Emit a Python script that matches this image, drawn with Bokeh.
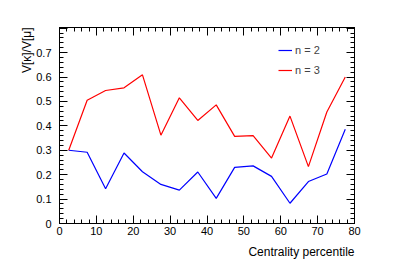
from bokeh.plotting import figure
from bokeh.models import (Range1d, LinearAxis, SingleIntervalTicker, Legend, LegendItem,
                          ColumnDataSource, Title, CustomJSTickFormatter)
from bokeh.embed import file_html
from bokeh.resources import INLINE

centrality = [2.5, 7.5, 12.5, 17.5, 22.5, 27.5, 32.5, 37.5, 42.5, 47.5, 52.5, 57.5, 62.5, 67.5, 72.5, 77.5]
ratio_n2 = [0.300, 0.292, 0.142, 0.289, 0.212, 0.160, 0.137, 0.211, 0.103, 0.230, 0.236, 0.193, 0.083, 0.172, 0.203, 0.386]
ratio_n3 = [0.300, 0.505, 0.545, 0.556, 0.609, 0.362, 0.515, 0.422, 0.486, 0.357, 0.360, 0.268, 0.440, 0.233, 0.457, 0.600]
series_names = ["n = 2", "n = 3"]
x_title = "Centrality percentile"
y_title = "V[\u03ba]/V[\u03bc]"

FONT = "Liberation Sans"

src = ColumnDataSource(dict(x=centrality, n2=ratio_n2, n3=ratio_n3))

p = figure(width=394, height=263, output_backend="svg", toolbar_location=None,
           x_range=Range1d(0, 80), y_range=Range1d(0, 0.803),
           x_axis_location=None, y_axis_location=None,
           min_border_left=59, min_border_right=40, min_border_top=27, min_border_bottom=40)
p.grid.visible = False
p.outline_line_color = "black"
p.outline_line_width = 1
p.background_fill_color = "white"
p.border_fill_color = "white"

def make_axis(kind, labels):
    if kind == "x":
        t = SingleIntervalTicker(interval=10, num_minor_ticks=5)
    else:
        t = SingleIntervalTicker(interval=0.1, num_minor_ticks=5)
    ax = LinearAxis(ticker=t)
    ax.axis_line_color = "black"
    ax.major_tick_in = 8
    ax.major_tick_out = 0
    ax.minor_tick_in = 4
    ax.minor_tick_out = 0
    ax.major_tick_line_color = "black"
    ax.minor_tick_line_color = "black"
    ax.major_label_text_font = FONT
    ax.major_label_text_font_size = "11px"
    ax.major_label_text_color = "black"
    if not labels:
        ax.major_label_text_font_size = "0px"
        ax.major_label_text_alpha = 0
    return ax

xb = make_axis("x", True)
xb.major_label_standoff = 3
yl = make_axis("y", True)
yl.major_label_standoff = 8
yl.formatter = CustomJSTickFormatter(
    code="return tick > 0.75 ? '' : (Math.abs(tick) < 1e-9 ? '0' : tick.toFixed(1));")
xt = make_axis("x", False)
yr = make_axis("y", False)
p.add_layout(xb, "below")
p.add_layout(yl, "left")
p.add_layout(xt, "above")
p.add_layout(yr, "right")

r2 = p.line("x", "n2", source=src, line_color="#0000ff", line_width=1.2)
r3 = p.line("x", "n3", source=src, line_color="#ff0000", line_width=1.2)

legend = Legend(items=[LegendItem(label=series_names[0], renderers=[r2]),
                       LegendItem(label=series_names[1], renderers=[r3])],
                location=(219, 143), padding=0, margin=0, spacing=0,
                glyph_width=14, glyph_height=20, label_height=20, label_standoff=3,
                border_line_alpha=0, background_fill_alpha=0,
                label_text_font=FONT, label_text_font_size="11px")
p.add_layout(legend, "center")

p.add_layout(Title(text=x_title, align="right", text_font=FONT, text_font_size="12px",
                   text_font_style="normal", text_color="black", offset=0), "below")
p.add_layout(Title(text=y_title, align="right", text_font=FONT, standoff=0,
                   text_font_size="12px", text_font_style="normal", text_color="black",
                   offset=0), "left")
p.add_layout(Title(text=" ", text_font=FONT, standoff=0, text_font_size="12px"), "left")

open("out.html", "w").write(file_html(p, INLINE))
